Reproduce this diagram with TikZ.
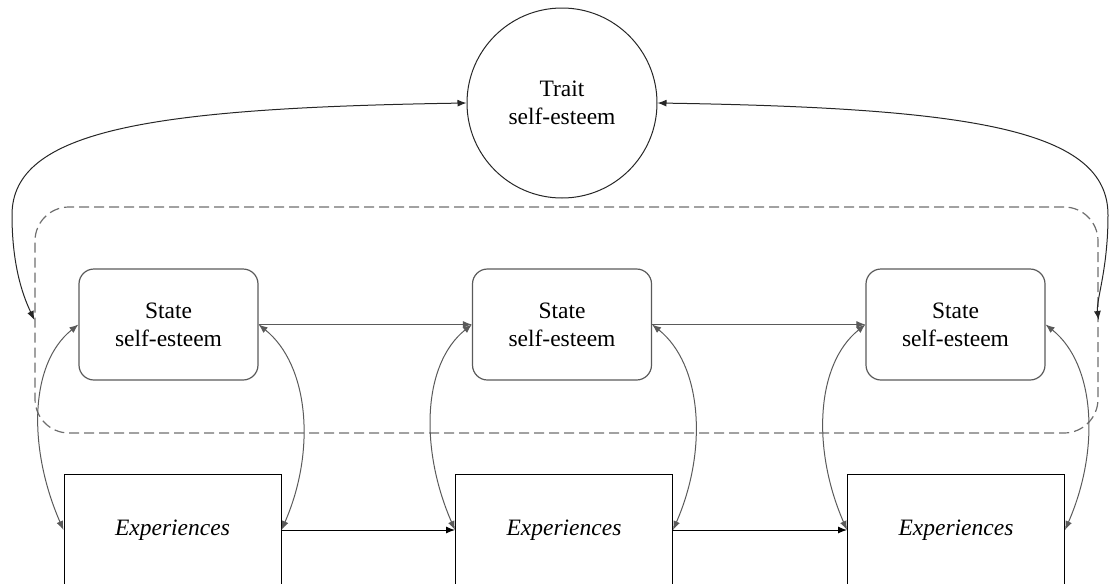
\documentclass[tikz,border=0pt]{standalone}
\usepackage{fontspec}
\setmainfont{Liberation Serif}
\usetikzlibrary{arrows.meta, positioning}
\definecolor{lineGray}{HTML}{5A5A5A}
\definecolor{dashGray}{HTML}{6E6E6E}

\begin{document}
\begin{tikzpicture}[x=0.5pt, y=-0.5pt,
    trait/.style={circle, draw=black!85, line width=0.5pt, minimum size=95pt, inner sep=0pt,
      align=center, font=\fontsize{11.75}{14}\selectfont},
    sbox/.style={rectangle, rounded corners=7.5pt, draw=lineGray, line width=0.6pt, minimum width=89.5pt,
      minimum height=55.5pt, align=center, font=\fontsize{11.75}{14}\selectfont},
    ebox/.style={rectangle, draw=black, line width=0.5pt, minimum width=108.5pt, minimum height=56pt,
      font=\fontsize{11.75}{14}\selectfont\itshape},
    dashbox/.style={rectangle, rounded corners=17pt, draw=dashGray, dash pattern=on 5pt off 2.5pt,
      line width=0.6pt, minimum width=531.5pt, minimum height=113pt},
    arr/.style={-{Latex[length=4.5pt, width=3.5pt]}, line width=0.5pt, lineGray},
    darr/.style={{Latex[length=4.5pt, width=3.5pt]}-{Latex[length=4.5pt, width=3.5pt]}, line width=0.5pt, lineGray}
  ]
  \path[use as bounding box, clip] (0,0) rectangle (1120,584);
  \node[dashbox] (grp) at (566.5,320) {};
  \node[trait] (trt) at (562,103) {Trait\\self-esteem};
  \node[sbox] (s1) at (168.5,324.5) {State\\self-esteem};
  \node[sbox] (s2) at (562,324.5) {State\\self-esteem};
  \node[sbox] (s3) at (955.5,324.5) {State\\self-esteem};
  \node[ebox] (e1) at (172.5,530) {Experiences};
  \node[ebox] (e2) at (564,530) {Experiences};
  \node[ebox] (e3) at (956,530) {Experiences};
  % trait to the whole state block
  \draw[darr, draw=black!85] (trt.west) .. controls (150,108) and (12,130) .. (12,215)
    .. controls (12,270) and (25,300) .. (grp.west);
  \draw[darr, draw=black!85] (trt.east) .. controls (975,108) and (1108,130) .. (1108,215)
    .. controls (1108,270) and (1096,300) .. (grp.east);
  \draw[arr] (s1.east) -- (s2.west);
  \draw[arr] (s2.east) -- (s3.west);
  \draw[arr, black] (e1.east) -- (e2.west);
  \draw[arr, black] (e2.east) -- (e3.west);
  \foreach \i in {1,2,3} {
    \draw[darr] (s\i.west) .. controls +(-50,40) and +(-35,-80) .. (e\i.west);
    \draw[darr] (s\i.east) .. controls +(50,40) and +(35,-80) .. (e\i.east);
  }
\end{tikzpicture}
\end{document}
